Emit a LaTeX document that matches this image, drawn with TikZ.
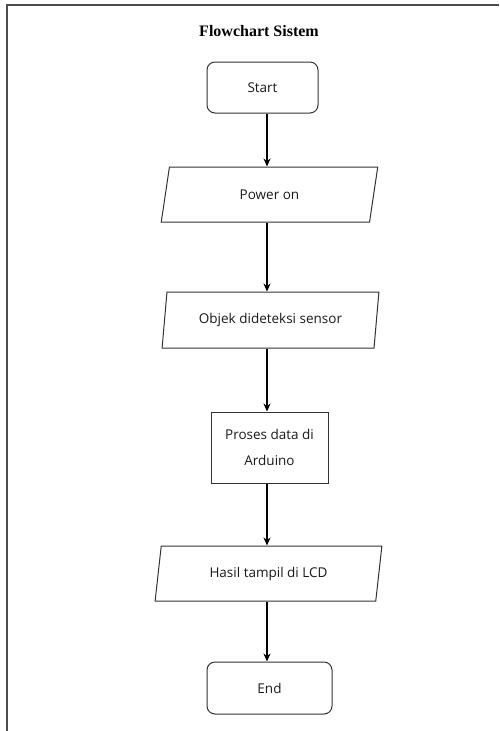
\documentclass[tikz,border=0pt]{standalone}
\usepackage{fontspec}
\setmainfont{Liberation Serif}
\newfontfamily\bodyfont{Open Sans}
\usetikzlibrary{shapes.geometric,arrows.meta}
\begin{document}
\begin{tikzpicture}[x=1pt,y=-1pt,
  every node/.style={font=\bodyfont\fontsize{13.5}{26}\selectfont, text=black!90},
  term/.style={draw=black!80, line width=1pt, rounded corners=8pt, inner sep=0pt},
  io/.style={draw=black!80, line width=1pt, trapezium, trapezium left angle=76, trapezium right angle=104, trapezium stretches=true, inner sep=0pt},
  proc/.style={draw=black!80, line width=1pt, inner sep=0pt, align=center},
  arr/.style={draw=black, line width=1.1pt, -{Stealth[length=8pt,width=7pt]}}]
\useasboundingbox (0,0) rectangle (499,731);
\draw[line width=1.6pt, black!70] (7,731) -- (7,5) -- (499,5);
\node[font=\rmfamily\bfseries\fontsize{16}{18}\selectfont, text=black] (title) at (259,31) {Flowchart Sistem};
\coordinate (ax) at (267,0);
\node[term, minimum width=111pt, minimum height=51pt] (start) at (262.5,87.5) {Start};
\node[io, minimum width=217pt, minimum height=55pt] (power) at (269.5,194.5) {Power on};
\node[io, minimum width=217pt, minimum height=56pt] (objek) at (270.5,320) {Objek dideteksi sensor};
\node[proc, minimum width=117pt, minimum height=71pt] (proses) at (269.5,447.5) {Proses data di\\Arduino};
\node[io, minimum width=227pt, minimum height=55pt] (hasil) at (268.5,573.5) {Hasil tampil di LCD};
\node[term, minimum width=125pt, minimum height=52pt] (end) at (269.5,688) {End};
\draw[arr] (start.south -| ax) -- (power.north -| ax);
\draw[arr] (power.south -| ax) -- (objek.north -| ax);
\draw[arr] (objek.south -| ax) -- (proses.north -| ax);
\draw[arr] (proses.south -| ax) -- (hasil.north -| ax);
\draw[arr] (hasil.south -| ax) -- (end.north -| ax);
\end{tikzpicture}
\end{document}
